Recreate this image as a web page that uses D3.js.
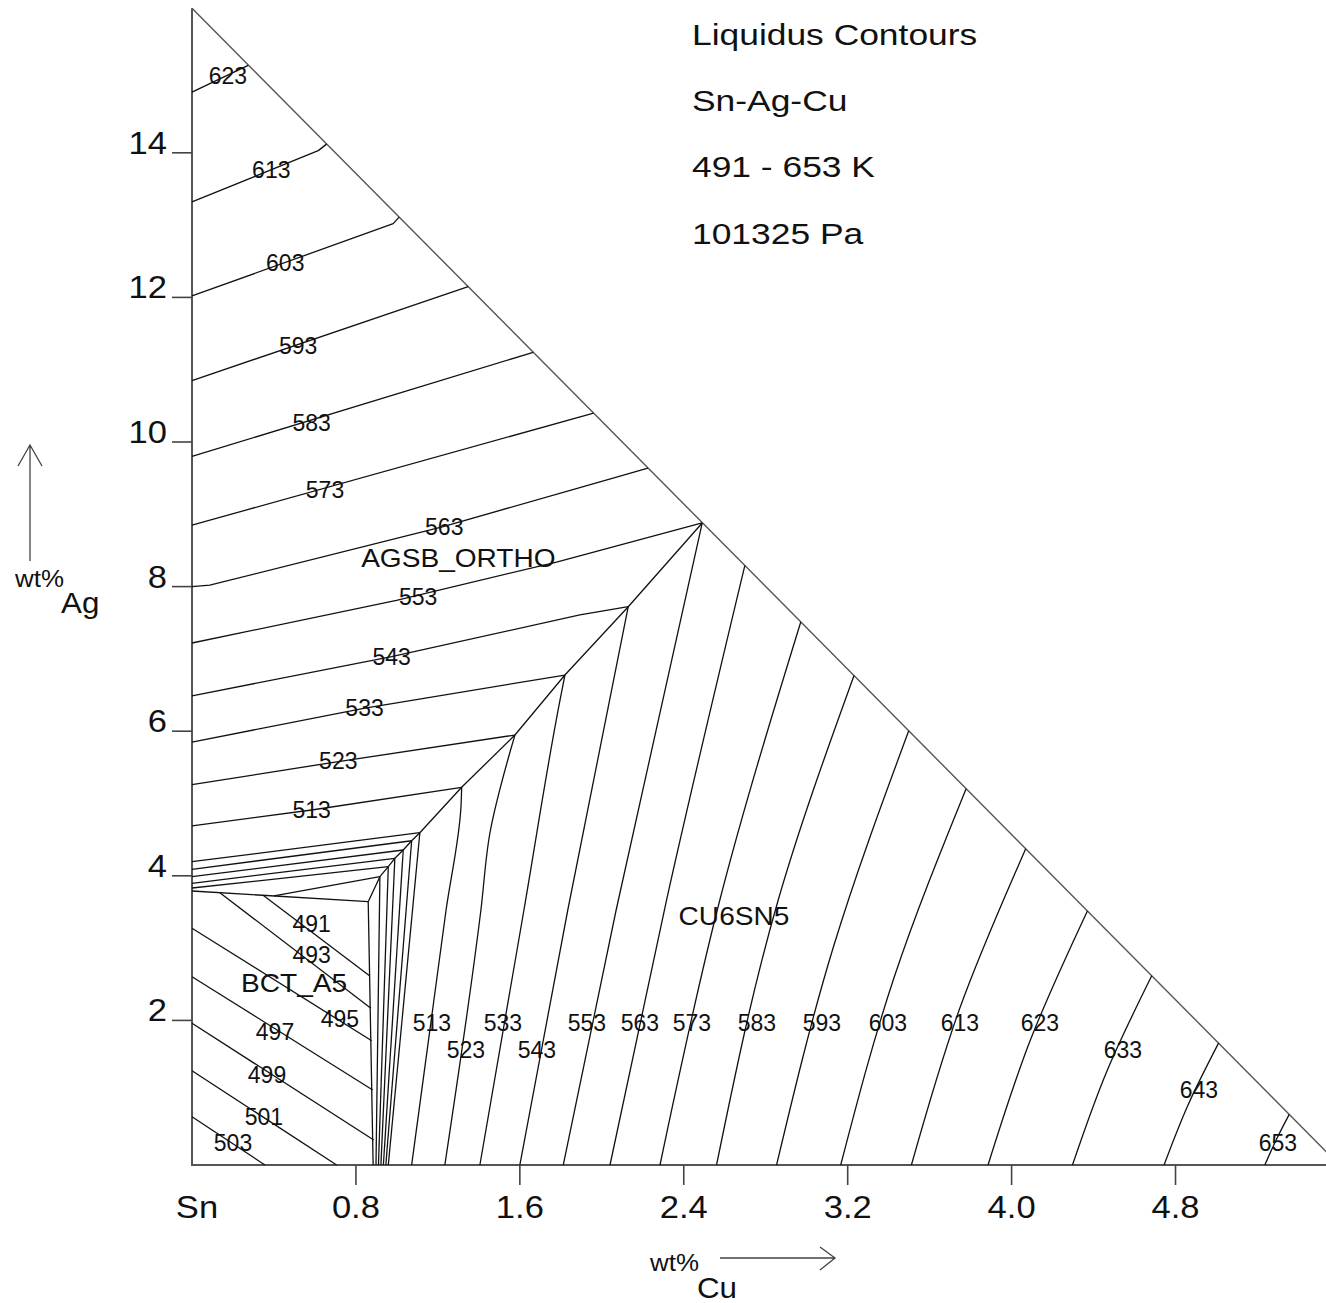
<!DOCTYPE html>
<html>
<head>
<meta charset="utf-8">
<script src="https://cdn.jsdelivr.net/npm/d3@7"></script>
<style>
  body { margin: 0; background: #fff; }
  svg { display: block; }
</style>
</head>
<body>
<svg id="chart" width="1326" height="1303"></svg>
<script>
// ---- Diagram data (wt% Cu, wt% Ag) ----
const titleLines = ["Liquidus Contours", "Sn-Ag-Cu", "491 - 653 K", "101325 Pa"];
const xTicks = [0, 0.8, 1.6, 2.4, 3.2, 4.0, 4.8];
const xTickLabels = ["Sn", "0.8", "1.6", "2.4", "3.2", "4.0", "4.8"];
const yTicks = [2, 4, 6, 8, 10, 12, 14];
const cuMax = 5.6;
const agMax = 16;

// Liquidus isotherms (K) in the AGSB_ORTHO primary field
const agsbContours = [
  { level: 623, label: [0.175, 15.06], pts: [[0, 14.84], [0.274, 15.21]] },
  { level: 613, label: [0.387, 13.76], pts: [[0, 13.32], [0.616, 14.03], [0.657, 14.12]] },
  { level: 603, label: [0.455, 12.48], pts: [[0, 12.02], [0.982, 13.02], [1.011, 13.11]] },
  { level: 593, label: [0.518, 11.33], pts: [[0, 10.85], [1.348, 12.15]] },
  { level: 583, label: [0.584, 10.26], pts: [[0, 9.80], [1.665, 11.24]] },
  { level: 573, label: [0.649, 9.34], pts: [[0, 8.85], [1.960, 10.40]] },
  { level: 563, label: [1.231, 8.83], pts: [[0, 8.00], [0.087, 8.02], [1.226, 8.83], [1.991, 9.45], [2.225, 9.64]] },
  { level: 553, label: [1.104, 7.86], pts: [[0, 7.22], [0.998, 7.81], [1.779, 8.34], [2.49, 8.88]] },
  { level: 543, label: [0.974, 7.03], pts: [[0, 6.49], [0.974, 7.03], [1.893, 7.61], [2.129, 7.722]] },
  { level: 533, label: [0.842, 6.32], pts: [[0, 5.85], [0.844, 6.32], [1.820, 6.777]] },
  { level: 523, label: [0.714, 5.59], pts: [[0, 5.26], [0.714, 5.58], [1.576, 5.947]] },
  { level: 513, label: [0.584, 4.91], pts: [[0, 4.69], [0.584, 4.91], [1.316, 5.224]] },
  { level: 503, label: null, pts: [[0, 4.195], [1.112, 4.596]] },
  { level: 501, label: null, pts: [[0, 4.090], [1.072, 4.485]] },
  { level: 499, label: null, pts: [[0, 3.988], [1.031, 4.357]] },
  { level: 497, label: null, pts: [[0, 3.896], [0.990, 4.242]] },
  { level: 495, label: null, pts: [[0, 3.831], [0.958, 4.126]] },
  { level: 493, label: null, pts: [[0.40, 3.721], [0.917, 3.988]] }
];

// Liquidus isotherms (K) in the BCT_A5 primary field
const bctContours = [
  { level: 491, label: [0.584, 3.343], pts: [[0.347, 3.73], [0.868, 2.614]] },
  { level: 493, label: [0.584, 2.904], pts: [[0.136, 3.767], [0.873, 2.167]] },
  { level: 495, label: [0.722, 2.029], pts: [[0, 3.274], [0.877, 1.719]] },
  { level: 497, label: [0.405, 1.840], pts: [[0, 2.604], [0.882, 1.037]] },
  { level: 499, label: [0.366, 1.245], pts: [[0, 1.960], [0.887, 0.346]] },
  { level: 501, label: [0.351, 0.664], pts: [[0, 1.304], [0.706, 0]] },
  { level: 503, label: [0.200, 0.304], pts: [[0, 0.668], [0.356, 0]] }
];

// Liquidus isotherms (K) in the CU6SN5 primary field
const cu6sn5Contours = [
  { level: 493, label: null, pts: [[0.917, 3.988], [0.898, 0]] },
  { level: 495, label: null, pts: [[0.958, 4.126], [0.910, 0]] },
  { level: 497, label: null, pts: [[0.990, 4.242], [0.922, 0]] },
  { level: 499, label: null, pts: [[1.031, 4.357], [0.934, 0]] },
  { level: 501, label: null, pts: [[1.072, 4.485], [0.946, 0]] },
  { level: 503, label: null, pts: [[1.112, 4.596], [0.958, 0]] },
  { level: 513, label: [1.171, 1.964], pts: [[1.316, 5.224], [1.313, 4.97], [1.240, 3.527], [1.072, 0]] },
  { level: 523, label: [1.337, 1.591], pts: [[1.576, 5.947], [1.552, 5.712], [1.454, 4.592], [1.410, 3.527], [1.234, 0]] },
  { level: 533, label: [1.517, 1.964], pts: [[1.820, 6.777], [1.796, 6.431], [1.620, 3.527], [1.405, 0]] },
  { level: 543, label: [1.683, 1.591], pts: [[2.129, 7.722], [1.834, 3.527], [1.600, 0]] },
  { level: 553, label: [1.927, 1.964], pts: [[2.49, 8.88], [2.070, 3.527], [1.812, 0]] },
  { level: 563, label: [2.186, 1.964], pts: [[2.698, 8.29], [2.316, 3.665], [2.040, 0]] },
  { level: 573, label: [2.440, 1.964], pts: [[2.971, 7.51], [2.576, 3.665], [2.284, 0]] },
  { level: 583, label: [2.757, 1.964], pts: [[3.231, 6.77], [2.861, 3.665], [2.560, 0]] },
  { level: 593, label: [3.074, 1.964], pts: [[3.498, 6.006], [3.128, 2.994], [2.853, 0]] },
  { level: 603, label: [3.396, 1.964], pts: [[3.778, 5.205], [3.426, 2.589], [3.166, 0]] },
  { level: 613, label: [3.748, 1.964], pts: [[4.069, 4.374], [3.748, 2.174], [3.511, 0]] },
  { level: 623, label: [4.138, 1.964], pts: [[4.370, 3.514], [4.094, 1.745], [3.885, 0]] },
  { level: 633, label: [4.543, 1.591], pts: [[4.684, 2.617], [4.465, 1.297], [4.297, 0]] },
  { level: 643, label: [4.914, 1.037], pts: [[5.010, 1.686], [4.860, 0.824], [4.744, 0]] },
  { level: 653, label: [5.300, 0.304], pts: [[5.355, 0.70], [5.290, 0.339], [5.236, 0]] }
];

// Univariant valleys between primary fields
const boundaries = [
  [[0, 3.79], [0.86, 3.642]],
  [[0.86, 3.642], [0.884, 0]],
  [[0.86, 3.642], [0.917, 3.988], [0.958, 4.126], [0.990, 4.242], [1.031, 4.357], [1.072, 4.485],
   [1.112, 4.596], [1.316, 5.224], [1.576, 5.947], [1.820, 6.777], [2.129, 7.722], [2.49, 8.88]]
];

const phaseNames = ["AGSB_ORTHO", "BCT_A5", "CU6SN5"];
const phaseLabelAt = [[1.300, 8.275], [0.498, 2.397], [2.645, 3.319]];

// ---- Drawing ----
const svg = d3.select("#chart");
const FONT = "'Liberation Sans', Arial, Helvetica, sans-serif";

const x = d3.scaleLinear().domain([0, cuMax]).range([192, 192 + 204.9 * cuMax]);
const y = d3.scaleLinear().domain([0, agMax]).range([1165, 1165 - 72.3 * agMax]);

const straight = d3.line().x(d => x(d[0])).y(d => y(d[1]));
const smooth = d3.line().x(d => x(d[0])).y(d => y(d[1])).curve(d3.curveMonotoneY);

function label(g, px, py, str, size, sx, anchor, dy) {
  return g.append("text")
    .attr("transform", `translate(${px},${py}) scale(${sx},1)`)
    .attr("text-anchor", anchor)
    .attr("dy", dy || 0)
    .attr("font-family", FONT)
    .attr("font-size", size)
    .attr("fill", "#111")
    .text(str);
}

// Frame of the composition triangle
const frame = svg.append("g").attr("fill", "none");
frame.append("path").attr("d", straight([[0, agMax], [cuMax, 0]]))
  .attr("stroke", "#555").attr("stroke-width", 1.4);
frame.append("path").attr("d", straight([[0, agMax], [0, 0], [cuMax, 0]]))
  .attr("stroke", "#555").attr("stroke-width", 2);

// Ticks
const ticks = svg.append("g").attr("stroke", "#444").attr("stroke-width", 1.6);
yTicks.forEach(v => {
  ticks.append("line").attr("x1", x(0) - 20).attr("x2", x(0)).attr("y1", y(v)).attr("y2", y(v));
});
xTicks.filter(v => v > 0).forEach(v => {
  ticks.append("line").attr("x1", x(v)).attr("x2", x(v)).attr("y1", y(0)).attr("y2", y(0) + 20);
});

const texts = svg.append("g");
yTicks.forEach(v => label(texts, x(0) - 25, y(v) + 1, String(v), 32, 1.08, "end"));
xTicks.forEach((v, i) => label(texts, x(v) + (i === 0 ? 5 : 0), 1218, xTickLabels[i], 32, 1.08, "middle"));

// Contours and boundaries
const lines = svg.append("g").attr("fill", "none").attr("stroke", "#111").attr("stroke-width", 1.3)
  .attr("stroke-linejoin", "round");
agsbContours.forEach(c => lines.append("path").attr("d", straight(c.pts)));
bctContours.forEach(c => lines.append("path").attr("d", straight(c.pts)));
cu6sn5Contours.forEach(c => lines.append("path").attr("d", smooth(c.pts)));
boundaries.forEach(b => lines.append("path").attr("d", straight(b)));

// Isotherm labels
const levelLabels = svg.append("g");
[...agsbContours, ...bctContours, ...cu6sn5Contours]
  .filter(c => c.label)
  .forEach(c => label(levelLabels, x(c.label[0]), y(c.label[1]), String(c.level), 23, 1.0, "middle", "0.36em"));

// Primary phase field names
phaseNames.forEach((n, i) => label(levelLabels, x(phaseLabelAt[i][0]), y(phaseLabelAt[i][1]), n, 26, 1.08, "middle"));

// Title block
titleLines.forEach((t, i) => label(texts, 692, 45 + 66.2 * i, t, 30, 1.18, "start"));

// Axis names with direction arrows
label(texts, 15, 587, "wt%", 24, 1.08, "start");
label(texts, 61, 613, "Ag", 29, 1.08, "start");
label(texts, 650, 1271, "wt%", 24, 1.08, "start");
label(texts, 697, 1298, "Cu", 29, 1.08, "start");

const arrows = svg.append("g").attr("fill", "none").attr("stroke", "#444").attr("stroke-width", 1.3);
arrows.append("path").attr("d", "M30,561 L30,445 M18,466 L30,445 L42,466");
arrows.append("path").attr("d", "M720,1258 L835,1258 M820,1247 L835,1258 L820,1270");
</script>
</body>
</html>
